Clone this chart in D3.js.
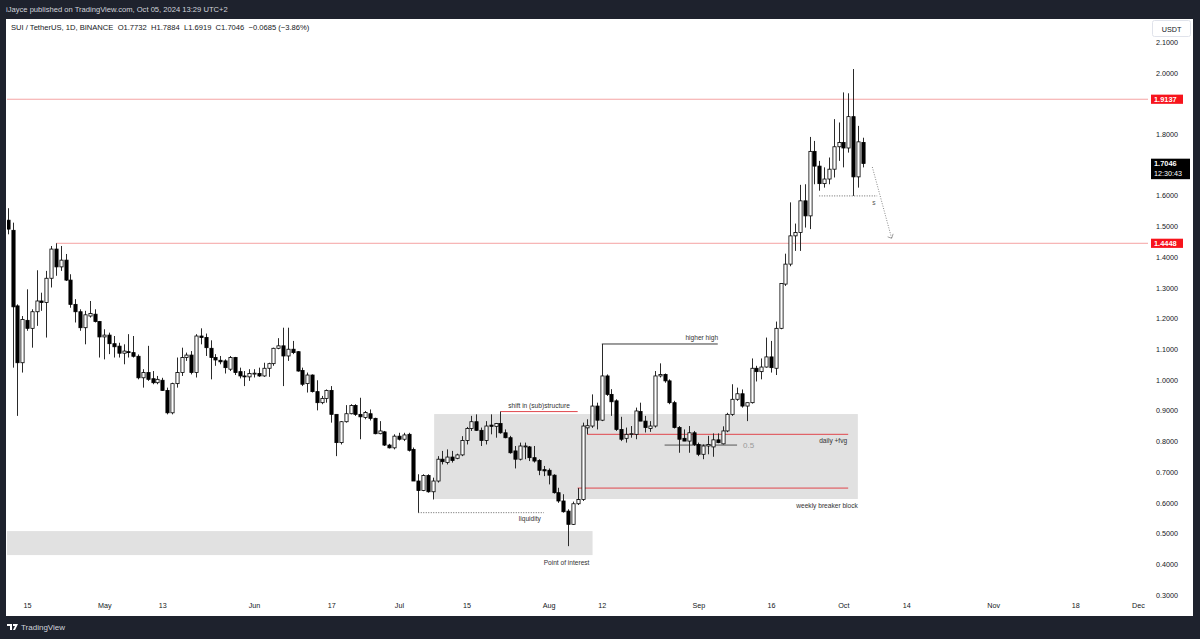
<!DOCTYPE html>
<html>
<head>
<meta charset="utf-8">
<script src="https://cdn.jsdelivr.net/npm/d3@7"></script>
<style>
  html, body { margin: 0; padding: 0; background: #1e222d; }
  svg { display: block; font-family: "Liberation Sans", Arial, sans-serif; }
</style>
</head>
<body>
<div id="chart"></div>
<script>
// SUI / TetherUS daily candles, Apr 11 -> Oct 5 2024
var firstDay = "2024-04-11";

var open = [
  1.520, 1.487, 1.241, 1.056, 1.194, 1.168, 1.222, 1.257, 1.252, 1.331,
  1.426, 1.368, 1.390, 1.325, 1.246, 1.222, 1.170, 1.208, 1.214, 1.190,
  1.140, 1.146, 1.118, 1.110, 1.087, 1.092, 1.089, 1.077, 1.007, 1.024,
  1.004, 0.991, 0.999, 0.966, 0.893, 0.988, 1.024, 1.073, 1.081, 1.024,
  1.143, 1.138, 1.103, 1.073, 1.064, 1.062, 1.035, 1.073, 1.027, 1.013,
  1.010, 1.019, 1.021, 1.013, 1.038, 1.053, 1.103, 1.111, 1.078, 1.100,
  1.092, 1.031, 0.988, 1.016, 0.962, 0.926, 0.940, 0.966, 0.888, 0.796,
  0.864, 0.890, 0.917, 0.888, 0.878, 0.890, 0.875, 0.825, 0.831, 0.788,
  0.779, 0.817, 0.807, 0.823, 0.774, 0.671, 0.640, 0.689, 0.636, 0.671,
  0.742, 0.731, 0.749, 0.745, 0.756, 0.803, 0.842, 0.864, 0.836, 0.803,
  0.853, 0.849, 0.858, 0.828, 0.812, 0.769, 0.742, 0.782, 0.782, 0.747,
  0.738, 0.708, 0.706, 0.690, 0.633, 0.606, 0.573, 0.530, 0.597, 0.611,
  0.844, 0.850, 0.915, 0.869, 1.013, 0.953, 0.932, 0.839, 0.810, 0.823,
  0.823, 0.897, 0.866, 0.842, 0.850, 1.013, 1.018, 0.997, 0.926, 0.845,
  0.810, 0.801, 0.828, 0.790, 0.758, 0.785, 0.782, 0.805, 0.792, 0.834,
  0.888, 0.937, 0.955, 0.915, 0.926, 1.038, 1.027, 1.042, 1.075, 1.038,
  1.168, 1.312, 1.377, 1.469, 1.480, 1.583, 1.534, 1.744, 1.696, 1.639,
  1.654, 1.686, 1.759, 1.773, 1.755, 1.857, 1.661, 1.7732
];
var high = [
  1.559, 1.512, 1.246, 1.208, 1.295, 1.230, 1.357, 1.284, 1.355, 1.436,
  1.4448, 1.436, 1.410, 1.344, 1.263, 1.230, 1.225, 1.257, 1.230, 1.192,
  1.165, 1.154, 1.143, 1.121, 1.116, 1.149, 1.143, 1.083, 1.035, 1.111,
  1.029, 1.013, 1.007, 0.975, 0.991, 1.073, 1.105, 1.089, 1.094, 1.149,
  1.168, 1.151, 1.129, 1.084, 1.078, 1.067, 1.078, 1.075, 1.040, 1.029,
  1.035, 1.035, 1.040, 1.056, 1.056, 1.105, 1.136, 1.170, 1.170, 1.127,
  1.094, 1.040, 1.024, 1.018, 0.999, 0.948, 0.969, 0.980, 0.888, 0.866,
  0.918, 0.921, 0.921, 0.942, 0.899, 0.904, 0.877, 0.866, 0.834, 0.792,
  0.823, 0.828, 0.828, 0.828, 0.780, 0.693, 0.693, 0.693, 0.682, 0.752,
  0.769, 0.774, 0.769, 0.760, 0.817, 0.847, 0.883, 0.888, 0.845, 0.866,
  0.888, 0.860, 0.897, 0.839, 0.818, 0.785, 0.796, 0.796, 0.785, 0.785,
  0.742, 0.720, 0.712, 0.693, 0.649, 0.628, 0.579, 0.604, 0.648, 0.861,
  0.872, 0.953, 0.926, 1.117, 1.018, 0.970, 0.937, 0.880, 0.845, 0.850,
  0.910, 0.926, 0.883, 0.866, 1.029, 1.054, 1.021, 1.002, 0.932, 0.850,
  0.839, 0.850, 0.834, 0.796, 0.790, 0.818, 0.826, 0.826, 0.849, 0.893,
  0.986, 0.975, 0.969, 0.926, 1.070, 1.046, 1.070, 1.138, 1.127, 1.190,
  1.314, 1.411, 1.578, 1.509, 1.635, 1.637, 1.791, 1.778, 1.713, 1.692,
  1.724, 1.849, 1.838, 1.936, 1.933, 2.012, 1.827, 1.7884
];
var low = [
  1.474, 1.040, 0.883, 1.024, 1.160, 1.105, 1.176, 1.225, 1.138, 1.301,
  1.339, 1.355, 1.322, 1.235, 1.187, 1.160, 1.116, 1.203, 1.187, 1.073,
  1.067, 1.084, 1.073, 1.073, 1.051, 1.073, 1.073, 1.002, 0.975, 0.997,
  0.986, 0.986, 0.964, 0.888, 0.888, 0.975, 1.013, 1.062, 1.018, 1.008,
  1.116, 1.078, 1.002, 1.046, 1.051, 1.021, 1.029, 1.016, 1.005, 0.980,
  0.997, 1.008, 1.010, 1.010, 1.010, 1.046, 1.100, 0.980, 1.062, 1.084,
  1.027, 0.980, 0.959, 0.959, 0.901, 0.921, 0.926, 0.861, 0.752, 0.790,
  0.861, 0.888, 0.883, 0.807, 0.872, 0.868, 0.823, 0.823, 0.785, 0.777,
  0.774, 0.803, 0.801, 0.767, 0.671, 0.568, 0.638, 0.633, 0.611, 0.666,
  0.725, 0.725, 0.731, 0.742, 0.752, 0.790, 0.834, 0.834, 0.785, 0.790,
  0.823, 0.812, 0.825, 0.810, 0.760, 0.712, 0.738, 0.742, 0.736, 0.731,
  0.690, 0.687, 0.660, 0.630, 0.600, 0.568, 0.459, 0.528, 0.593, 0.606,
  0.823, 0.844, 0.839, 0.866, 0.948, 0.883, 0.834, 0.801, 0.796, 0.812,
  0.807, 0.866, 0.829, 0.831, 0.845, 1.008, 0.991, 0.921, 0.842, 0.763,
  0.801, 0.763, 0.785, 0.752, 0.742, 0.758, 0.750, 0.794, 0.790, 0.830,
  0.883, 0.932, 0.910, 0.866, 0.923, 0.995, 1.002, 1.040, 1.024, 1.016,
  1.165, 1.306, 1.370, 1.420, 1.420, 1.496, 1.491, 1.637, 1.616, 1.626,
  1.637, 1.659, 1.713, 1.692, 1.740, 1.599, 1.626, 1.6919
];
var close = [
  1.491, 1.238, 1.056, 1.197, 1.168, 1.222, 1.257, 1.252, 1.331, 1.426,
  1.368, 1.390, 1.325, 1.246, 1.222, 1.170, 1.212, 1.216, 1.190, 1.140,
  1.146, 1.118, 1.108, 1.087, 1.094, 1.089, 1.077, 1.007, 1.024, 1.002,
  0.991, 1.002, 0.966, 0.893, 0.988, 1.024, 1.073, 1.081, 1.024, 1.143,
  1.138, 1.105, 1.073, 1.065, 1.059, 1.040, 1.073, 1.024, 1.013, 1.010,
  1.021, 1.022, 1.013, 1.038, 1.053, 1.103, 1.111, 1.078, 1.100, 1.089,
  1.029, 0.986, 1.016, 0.962, 0.926, 0.940, 0.966, 0.888, 0.796, 0.864,
  0.890, 0.917, 0.888, 0.880, 0.894, 0.875, 0.825, 0.834, 0.788, 0.779,
  0.817, 0.807, 0.821, 0.771, 0.671, 0.640, 0.689, 0.636, 0.671, 0.742,
  0.734, 0.749, 0.738, 0.756, 0.803, 0.842, 0.864, 0.836, 0.803, 0.850,
  0.849, 0.858, 0.828, 0.812, 0.763, 0.742, 0.785, 0.785, 0.747, 0.736,
  0.706, 0.704, 0.690, 0.633, 0.606, 0.571, 0.530, 0.597, 0.611, 0.850,
  0.851, 0.915, 0.869, 1.013, 0.953, 0.929, 0.839, 0.807, 0.823, 0.825,
  0.899, 0.866, 0.845, 0.850, 1.013, 1.018, 0.997, 0.926, 0.845, 0.807,
  0.801, 0.828, 0.790, 0.758, 0.785, 0.790, 0.805, 0.796, 0.834, 0.888,
  0.937, 0.955, 0.915, 0.926, 1.038, 1.027, 1.042, 1.075, 1.040, 1.168,
  1.314, 1.377, 1.469, 1.480, 1.583, 1.534, 1.744, 1.696, 1.639, 1.654,
  1.686, 1.759, 1.773, 1.755, 1.857, 1.661, 1.775, 1.7046
];

// axis ticks
var priceTicks = [0.3, 0.4, 0.5, 0.6, 0.7, 0.8, 0.9, 1.0, 1.1, 1.2, 1.3, 1.4, 1.5, 1.6, 1.7, 1.8, 1.9, 2.0, 2.1];
var hiddenPriceTicks = [1.7, 1.9];   // covered by the price labels
var timeTickDates = ["2024-04-15", "2024-05-01", "2024-05-13", "2024-06-01", "2024-06-17", "2024-07-01",
  "2024-07-15", "2024-08-01", "2024-08-12", "2024-09-01", "2024-09-16", "2024-10-01", "2024-10-14",
  "2024-11-01", "2024-11-18", "2024-12-01"];
var timeTickLabels = ["15", "May", "13", "Jun", "17", "Jul", "15", "Aug", "12", "Sep", "16", "Oct", "14", "Nov", "18", "Dec"];

// drawn annotations (dates + prices)
var levelPrices = [1.9137, 1.4448];
var levelStarts = ["2024-04-08", "2024-04-21"];
var zoneNames = ["weekly breaker block", "Point of interest"];
var zoneFrom = ["2024-07-08T07:00", "2024-04-08"];
var zoneTo = ["2024-10-04T00:00", "2024-08-10T02:00"];
var zoneTop = [0.889, 0.508];
var zoneBottom = [0.6125, 0.430];
var redLineNames = ["shift in (sub)structure", "daily +fvg", "breaker"];
var redLineFrom = ["2024-07-22", "2024-08-09", "2024-08-07"];
var redLineTo = ["2024-08-07", "2024-10-02", "2024-10-02"];
var redLinePrice = [0.897, 0.823, 0.648];
var higherHigh = { from: "2024-08-12", to: "2024-09-05", price: 1.117 };
var fibHalf = { from: "2024-08-25", to: "2024-09-09", price: 0.788 };
var liquidity = { from: "2024-07-05", to: "2024-07-31", price: 0.568 };
var sweepLine = { from: "2024-09-26", to: "2024-10-08", price: 1.599 };
var arrowPath = { from: "2024-10-07", to: "2024-10-11", p0: 1.693, p1: 1.461 };

var W = 1200, H = 639;
var panel = { left: 6, top: 19, right: 1193, bottom: 616 };
var plotRight = 1148;

var parseDay = d3.utcParse("%Y-%m-%d");
var parseHour = d3.utcParse("%Y-%m-%dT%H:%M");
function pd(s) { return s.length > 10 ? parseHour(s) : parseDay(s); }

var start = parseDay(firstDay);
var candles = open.map(function (o, i) {
  return { date: d3.utcDay.offset(start, i), o: o, h: high[i], l: low[i], c: close[i] };
});

var x = d3.scaleUtc()
  .domain([parseDay("2024-04-15"), parseDay("2024-12-01")])
  .range([27, 1138]);
var y = d3.scaleLinear()
  .domain([0.3, 2.1])
  .range([595, 42]);

var svg = d3.select("#chart").append("svg")
  .attr("width", W)
  .attr("height", H);

// frame
svg.append("rect").attr("width", W).attr("height", H).attr("fill", "#1e222d");
svg.append("rect")
  .attr("x", panel.left).attr("y", panel.top)
  .attr("width", panel.right - panel.left).attr("height", panel.bottom - panel.top)
  .attr("fill", "#ffffff");

svg.append("text")
  .attr("x", 6).attr("y", 12)
  .attr("fill", "#d1d4dc").attr("font-size", 7.6)
  .text("iJayce published on TradingView.com, Oct 05, 2024 13:29 UTC+2");

svg.append("defs").append("clipPath").attr("id", "plot")
  .append("rect").attr("x", 7).attr("y", panel.top)
  .attr("width", plotRight - 7).attr("height", 578);

var plot = svg.append("g").attr("clip-path", "url(#plot)");

// zones
zoneNames.forEach(function (n, i) {
  plot.append("rect")
    .attr("x", x(pd(zoneFrom[i])))
    .attr("y", y(zoneTop[i]))
    .attr("width", x(pd(zoneTo[i])) - x(pd(zoneFrom[i])))
    .attr("height", y(zoneBottom[i]) - y(zoneTop[i]))
    .attr("fill", "#e1e1e1");
});

// horizontal levels
levelPrices.forEach(function (p, i) {
  plot.append("line")
    .attr("x1", x(parseDay(levelStarts[i]))).attr("x2", plotRight)
    .attr("y1", y(p)).attr("y2", y(p))
    .attr("stroke", "#f5a3a3").attr("stroke-width", 1);
});

// red structure lines
redLineNames.forEach(function (n, i) {
  plot.append("line")
    .attr("x1", x(parseDay(redLineFrom[i]))).attr("x2", x(parseDay(redLineTo[i])))
    .attr("y1", y(redLinePrice[i])).attr("y2", y(redLinePrice[i]))
    .attr("stroke", "#e0474c").attr("stroke-width", 1);
});

// higher high
plot.append("line")
  .attr("x1", x(parseDay(higherHigh.from))).attr("x2", x(parseDay(higherHigh.to)))
  .attr("y1", y(higherHigh.price)).attr("y2", y(higherHigh.price))
  .attr("stroke", "#3a3a3a").attr("stroke-width", 1);

// 0.5 fib
plot.append("line")
  .attr("x1", x(parseDay(fibHalf.from))).attr("x2", x(parseDay(fibHalf.to)))
  .attr("y1", y(fibHalf.price)).attr("y2", y(fibHalf.price))
  .attr("stroke", "#555").attr("stroke-width", 1);

// dotted lines
[liquidity, sweepLine].forEach(function (d) {
  plot.append("line")
    .attr("x1", x(parseDay(d.from))).attr("x2", x(parseDay(d.to)))
    .attr("y1", y(d.price)).attr("y2", y(d.price))
    .attr("stroke", "#666").attr("stroke-width", 1)
    .attr("stroke-dasharray", "1,1.5");
});

// dotted arrow
var ax0 = x(parseDay(arrowPath.from)), ay0 = y(arrowPath.p0);
var ax1 = x(parseDay(arrowPath.to)), ay1 = y(arrowPath.p1);
plot.append("line")
  .attr("x1", ax0).attr("y1", ay0).attr("x2", ax1).attr("y2", ay1)
  .attr("stroke", "#888").attr("stroke-width", 1).attr("stroke-dasharray", "1,1.5");
plot.append("path")
  .attr("d", "M" + (ax1 - 4) + "," + (ay1 - 1.5) + "L" + ax1 + "," + ay1 + "L" + (ax1 + 1.5) + "," + (ay1 - 4.5))
  .attr("fill", "none").attr("stroke", "#888").attr("stroke-width", 0.8);

// candles
var bw = 3.2;
var cg = plot.append("g");
cg.selectAll("line.wick")
  .data(candles)
  .enter()
  .append("line")
  .attr("class", "wick")
  .attr("x1", d => Math.round(x(d.date)) + 0.5)
  .attr("x2", d => Math.round(x(d.date)) + 0.5)
  .attr("y1", d => y(d.h))
  .attr("y2", d => y(d.l))
  .attr("stroke", "#2a2a2a")
  .attr("stroke-width", 1);

cg.selectAll("rect.body")
  .data(candles)
  .enter()
  .append("rect")
  .attr("class", "body")
  .attr("x", d => Math.round(x(d.date)) + 0.5 - bw / 2)
  .attr("y", d => y(Math.max(d.o, d.c)))
  .attr("width", bw)
  .attr("height", d => Math.max(0.8, Math.abs(y(d.o) - y(d.c))))
  .attr("fill", d => d.c >= d.o ? "#ffffff" : "#000000")
  .attr("stroke", "#000")
  .attr("stroke-width", 0.8);

// annotation texts
var notes = plot.append("g").attr("font-size", 6.6).attr("fill", "#333");
notes.append("text")
  .attr("x", (x(parseDay(redLineFrom[0])) + x(parseDay(redLineTo[0]))) / 2)
  .attr("y", y(redLinePrice[0]) - 4)
  .attr("text-anchor", "middle")
  .text(redLineNames[0]);
notes.append("text")
  .attr("x", x(parseDay(redLineTo[1])) - 1)
  .attr("y", y(redLinePrice[1]) + 9)
  .attr("text-anchor", "end")
  .text(redLineNames[1]);
notes.append("text")
  .attr("x", x(pd(zoneTo[0])))
  .attr("y", y(zoneBottom[0]) + 9)
  .attr("text-anchor", "end")
  .text(zoneNames[0]);
notes.append("text")
  .attr("x", x(pd(zoneTo[1])) - 26)
  .attr("y", y(zoneBottom[1]) + 10)
  .attr("text-anchor", "middle")
  .text(zoneNames[1]);
notes.append("text")
  .attr("x", x(parseDay(higherHigh.to)) - 16)
  .attr("y", y(higherHigh.price) - 4)
  .attr("text-anchor", "middle")
  .text("higher high");
notes.append("text")
  .attr("x", x(parseDay(liquidity.to)) - 14)
  .attr("y", y(liquidity.price) + 8)
  .attr("text-anchor", "middle")
  .text("liquidity");
notes.append("text")
  .attr("x", x(parseDay(fibHalf.to)) + 6)
  .attr("y", y(fibHalf.price) + 3)
  .attr("font-size", 8).attr("fill", "#999")
  .text("0.5");
notes.append("text")
  .attr("x", x(parseDay(sweepLine.to)) - 5)
  .attr("y", y(sweepLine.price) + 9)
  .attr("fill", "#555")
  .text("s");

// price axis
var yAxis = d3.axisRight(y)
  .tickValues(priceTicks.filter(p => hiddenPriceTicks.indexOf(p) < 0))
  .tickFormat(d3.format(".4f"))
  .tickSize(0)
  .tickPadding(0);
var yg = svg.append("g")
  .attr("transform", "translate(1156,0)")
  .call(yAxis);
yg.select(".domain").remove();
yg.selectAll("text")
  .attr("font-size", 7.2)
  .attr("fill", "#131722")
  .attr("font-family", "Liberation Sans, Arial, sans-serif");

// level labels on the axis
levelPrices.forEach(function (p) {
  svg.append("rect")
    .attr("x", 1151).attr("y", y(p) - 4.6)
    .attr("width", 32).attr("height", 9.2)
    .attr("fill", "#f7141c");
  svg.append("text")
    .attr("x", 1154).attr("y", y(p) + 2.6)
    .attr("fill", "#fff").attr("font-size", 7.4).attr("font-weight", "bold")
    .text(d3.format(".4f")(p));
});

// last price label
var last = candles[candles.length - 1];
svg.append("rect")
  .attr("x", 1151).attr("y", y(last.c) - 4.8)
  .attr("width", 39).attr("height", 20.5)
  .attr("fill", "#000");
svg.append("text")
  .attr("x", 1154).attr("y", y(last.c) + 2.6)
  .attr("fill", "#fff").attr("font-size", 7.4).attr("font-weight", "bold")
  .text(d3.format(".4f")(last.c));
svg.append("text")
  .attr("x", 1154).attr("y", y(last.c) + 12.6)
  .attr("fill", "#fff").attr("font-size", 7.2)
  .text("12:30:43");

// currency box
svg.append("rect")
  .attr("x", 1152.5).attr("y", 20.5)
  .attr("width", 38).attr("height", 16)
  .attr("rx", 2)
  .attr("fill", "#fff").attr("stroke", "#e0e3eb");
svg.append("text")
  .attr("x", 1171.5).attr("y", 31.5)
  .attr("text-anchor", "middle")
  .attr("fill", "#131722").attr("font-size", 7.2)
  .text("USDT");

// time axis
var xAxis = d3.axisBottom(x)
  .tickValues(timeTickDates.map(parseDay))
  .tickFormat((d, i) => timeTickLabels[i])
  .tickSize(0)
  .tickPadding(0);
var xg = svg.append("g")
  .attr("transform", "translate(0,603)")
  .call(xAxis);
xg.select(".domain").remove();
xg.selectAll("text")
  .attr("font-size", 7.2)
  .attr("fill", "#131722")
  .attr("font-family", "Liberation Sans, Arial, sans-serif");

// legend
svg.append("text")
  .attr("x", 11).attr("y", 30)
  .attr("fill", "#131722").attr("font-size", 7.6)
  .attr("xml:space", "preserve")
  .text("SUI / TetherUS, 1D, BINANCE  O1.7732  H1.7884  L1.6919  C1.7046  \u22120.0685 (\u22123.86%)");

// footer logo
var logo = svg.append("g").attr("transform", "translate(7,624)");
logo.append("path")
  .attr("d", "M0,0H5V6H3V2H0Z M6,0H11L8,6H6L8,2H6Z")
  .attr("fill", "#ffffff");
logo.append("text")
  .attr("x", 14).attr("y", 6.3)
  .attr("fill", "#d1d4dc").attr("font-size", 8)
  .text("TradingView");
</script>
</body>
</html>
